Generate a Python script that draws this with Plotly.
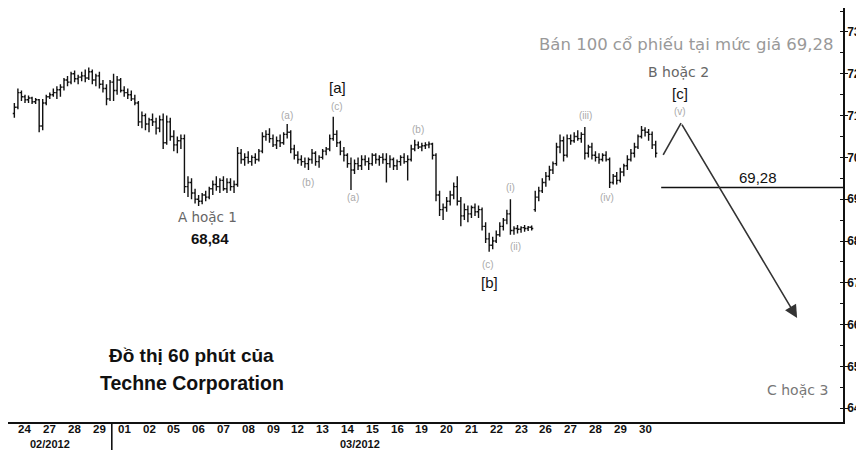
import plotly.graph_objects as go

# ---- data: 60-minute bars, 7 per trading day ----
day_labels = ["24", "27", "28", "29", "01", "02", "05", "06", "07", "08", "09", "12", "13",
              "14", "15", "16", "19", "20", "21", "22", "23", "26", "27", "28", "29", "30"]
month_labels = ["02/2012", "03/2012"]
month_pos = [1.0, 13.5]
price_ticks = [64, 65, 66, 67, 68, 69, 70, 71, 72, 73]
bars_per_day = 7

opens = [
    71.05, 71.20, 71.55, 71.45, 71.38, 71.42, 71.33,
    71.38, 70.75, 71.30, 71.45, 71.50, 71.55, 71.62,
    71.68, 71.85, 71.80, 72.00, 71.88, 71.92, 71.95,
    71.90, 72.05, 71.85, 71.95, 71.75, 71.65, 71.40,
    71.80, 71.60, 71.85, 71.60, 71.55, 71.50, 71.40,
    71.30, 70.85, 71.00, 70.80, 70.90, 70.85, 70.70,
    70.90, 70.35, 70.85, 70.50, 70.30, 70.40, 70.45,
    69.30, 69.40, 69.15, 69.00, 68.95, 69.10, 69.05,
    69.25, 69.35, 69.30, 69.45, 69.25, 69.40, 69.30,
    69.35, 70.10, 69.95, 70.00, 69.90, 70.00, 69.95,
    70.15, 70.50, 70.55, 70.45, 70.30, 70.40, 70.35,
    70.55, 70.60, 70.20, 70.05, 69.95, 69.90, 69.85,
    69.95, 70.10, 69.90, 70.00, 70.15, 70.20, 70.45,
    70.55, 70.35, 70.15, 70.05, 69.85, 69.70, 69.85,
    69.80, 69.95, 69.90, 69.85, 70.05, 69.95, 70.00,
    69.95, 69.85, 69.95, 69.80, 69.90, 70.00, 69.90,
    69.95, 70.20, 70.30, 70.25, 70.28, 70.30, 70.32,
    70.05, 69.10, 68.75, 68.80, 68.95, 69.10, 69.30,
    68.95, 68.60, 68.75, 68.65, 68.80, 68.70, 68.75,
    68.35, 68.05, 67.90, 68.00, 68.15, 68.35, 68.50,
    68.65, 68.25, 68.30, 68.28, 68.32, 68.30, 68.33,
    68.75, 69.05, 69.20, 69.40, 69.55, 69.70, 69.85,
    70.25, 70.40, 70.05, 70.45, 70.40, 70.50, 70.45,
    70.55, 70.10, 70.25, 70.05, 70.00, 69.95, 70.05,
    69.95, 69.40, 69.55, 69.45, 69.65, 69.80, 69.95,
    70.10, 70.25, 70.50, 70.65, 70.60, 70.55, 70.30,
]
highs = [
    71.30, 71.65, 71.60, 71.50, 71.48, 71.45, 71.42,
    71.40, 71.40, 71.50, 71.55, 71.65, 71.70, 71.75,
    71.90, 71.95, 72.05, 72.08, 71.98, 72.05, 72.10,
    72.15, 72.10, 72.00, 72.05, 71.85, 71.75, 71.85,
    72.00, 71.95, 71.90, 71.70, 71.65, 71.60, 71.50,
    71.35, 71.10, 71.05, 70.95, 71.05, 70.95, 71.00,
    71.05, 71.00, 70.95, 70.65, 70.50, 70.55, 70.55,
    69.55, 69.50, 69.25, 69.10, 69.15, 69.20, 69.30,
    69.45, 69.55, 69.50, 69.55, 69.50, 69.50, 69.45,
    70.25, 70.20, 70.10, 70.15, 70.05, 70.10, 70.20,
    70.60, 70.65, 70.70, 70.55, 70.50, 70.55, 70.60,
    70.80, 70.65, 70.30, 70.15, 70.05, 70.00, 70.00,
    70.20, 70.15, 70.05, 70.20, 70.25, 70.55, 70.97,
    70.65, 70.40, 70.25, 70.10, 70.00, 69.95, 70.00,
    70.05, 70.05, 70.00, 70.10, 70.10, 70.05, 70.10,
    70.10, 70.05, 70.00, 69.95, 70.05, 70.10, 70.05,
    70.30, 70.42, 70.38, 70.35, 70.36, 70.38, 70.35,
    70.10, 69.20, 68.90, 69.05, 69.20, 69.40, 69.55,
    69.05, 68.90, 68.85, 68.85, 68.90, 68.85, 68.80,
    68.45, 68.20, 68.10, 68.25, 68.45, 68.55, 68.75,
    69.00, 68.35, 68.38, 68.35, 68.38, 68.36, 68.37,
    69.20, 69.30, 69.50, 69.65, 69.80, 69.90, 70.35,
    70.55, 70.50, 70.55, 70.55, 70.60, 70.65, 70.60,
    70.73, 70.30, 70.35, 70.15, 70.10, 70.10, 70.15,
    70.00, 69.60, 69.65, 69.75, 69.85, 70.05, 70.20,
    70.35, 70.55, 70.75, 70.72, 70.68, 70.62, 70.40,
]
lows = [
    70.95, 71.15, 71.35, 71.30, 71.30, 71.28, 71.28,
    70.60, 70.65, 71.25, 71.40, 71.45, 71.40, 71.45,
    71.60, 71.70, 71.75, 71.80, 71.75, 71.82, 71.80,
    71.85, 71.75, 71.70, 71.65, 71.55, 71.25, 71.35,
    71.35, 71.50, 71.55, 71.45, 71.40, 71.35, 71.25,
    70.75, 70.70, 70.65, 70.60, 70.75, 70.55, 70.60,
    70.20, 70.30, 70.40, 70.15, 70.10, 70.20, 69.15,
    69.05, 69.00, 68.90, 68.84, 68.88, 68.95, 69.00,
    69.10, 69.20, 69.15, 69.20, 69.15, 69.20, 69.15,
    69.30, 69.85, 69.80, 69.85, 69.80, 69.85, 69.90,
    70.10, 70.40, 70.35, 70.25, 70.20, 70.25, 70.30,
    70.45, 70.10, 69.95, 69.85, 69.80, 69.75, 69.70,
    69.85, 69.80, 69.75, 69.95, 70.05, 70.15, 70.40,
    70.25, 70.05, 69.90, 69.75, 69.22, 69.60, 69.70,
    69.70, 69.80, 69.70, 69.80, 69.85, 69.80, 69.85,
    69.40, 69.75, 69.70, 69.70, 69.80, 69.85, 69.45,
    69.90, 70.15, 70.20, 70.15, 70.20, 70.22, 69.95,
    68.95, 68.60, 68.50, 68.70, 68.85, 69.00, 68.85,
    68.35, 68.50, 68.45, 68.55, 68.60, 68.55, 68.25,
    67.95, 67.74, 67.80, 67.95, 68.10, 68.25, 68.40,
    68.15, 68.15, 68.18, 68.20, 68.22, 68.24, 68.25,
    68.70, 68.95, 69.15, 69.30, 69.45, 69.60, 69.80,
    70.10, 69.90, 70.00, 70.30, 70.35, 70.40, 70.35,
    69.95, 70.00, 69.95, 69.90, 69.85, 69.90, 69.90,
    69.27, 69.35, 69.35, 69.40, 69.55, 69.70, 69.90,
    70.00, 70.20, 70.45, 70.50, 70.40, 70.20, 70.00,
]
closes = [
    71.20, 71.55, 71.45, 71.38, 71.42, 71.33, 71.38,
    70.75, 71.30, 71.45, 71.50, 71.55, 71.62, 71.68,
    71.85, 71.80, 72.00, 71.88, 71.92, 71.95, 71.90,
    72.05, 71.85, 71.95, 71.75, 71.65, 71.40, 71.80,
    71.60, 71.85, 71.60, 71.55, 71.50, 71.40, 71.30,
    70.85, 71.00, 70.80, 70.90, 70.85, 70.70, 70.90,
    70.35, 70.85, 70.50, 70.30, 70.40, 70.45, 69.30,
    69.40, 69.15, 69.00, 68.95, 69.10, 69.05, 69.25,
    69.35, 69.30, 69.45, 69.25, 69.40, 69.30, 69.35,
    70.10, 69.95, 70.00, 69.90, 70.00, 69.95, 70.15,
    70.50, 70.55, 70.45, 70.30, 70.40, 70.35, 70.55,
    70.60, 70.20, 70.05, 69.95, 69.90, 69.85, 69.95,
    70.10, 69.90, 70.00, 70.15, 70.20, 70.45, 70.55,
    70.35, 70.15, 70.05, 69.85, 69.70, 69.85, 69.80,
    69.95, 69.90, 69.85, 70.05, 69.95, 70.00, 69.95,
    69.85, 69.95, 69.80, 69.90, 70.00, 69.90, 69.95,
    70.20, 70.30, 70.25, 70.28, 70.30, 70.32, 70.05,
    69.10, 68.75, 68.80, 68.95, 69.10, 69.30, 68.95,
    68.60, 68.75, 68.65, 68.80, 68.70, 68.75, 68.35,
    68.05, 67.90, 68.00, 68.15, 68.35, 68.50, 68.65,
    68.25, 68.30, 68.28, 68.32, 68.30, 68.33, 68.30,
    69.05, 69.20, 69.40, 69.55, 69.70, 69.85, 70.25,
    70.40, 70.05, 70.45, 70.40, 70.50, 70.45, 70.55,
    70.10, 70.25, 70.05, 70.00, 69.95, 70.05, 69.95,
    69.40, 69.55, 69.45, 69.65, 69.80, 69.95, 70.10,
    70.25, 70.50, 70.65, 70.60, 70.55, 70.30, 70.10,
]

# projected path (start, B/2 peak, C/3 target) in day units / price
proj_x = [25.73, 26.45, 31.13]
proj_y = [70.06, 70.82, 66.16]
sell_level = 69.28
sell_start = 25.65

# wave labels: (text, x, y)
wave_labels = [
    ("(a)", 10.56, 71.01), ("(b)", 11.41, 69.41), ("(c)", 12.58, 71.21),
    ("(a)", 13.23, 69.03), ("(b)", 15.85, 70.66), ("(c)", 18.67, 67.43),
    ("(i)", 19.56, 69.27), ("(ii)", 19.76, 67.88), ("(iii)", 22.58, 71.01),
    ("(iv)", 23.47, 69.05), ("(v)", 26.41, 71.09),
]
bracket_labels = [("[a]", 12.58, 71.68), ("[b]", 18.71, 67.00), ("[c]", 26.41, 71.54)]

# ---- positions ----
xs = [k // bars_per_day + (k % bars_per_day + 0.5) / bars_per_day - 0.5 for k in range(len(closes))]

fig = go.Figure()
fig.add_trace(go.Ohlc(
    x=xs, open=opens, high=highs, low=lows, close=closes,
    increasing=dict(line=dict(color="#111", width=1.4)),
    decreasing=dict(line=dict(color="#111", width=1.4)),
    tickwidth=0.45, showlegend=False, hoverinfo="skip",
))

FONT = "Liberation Sans, Arial, sans-serif"
WIDE = "DejaVu Sans, Verdana, sans-serif"
ann = []
for t, x, y in wave_labels:
    ann.append(dict(x=x, y=y, text=t, showarrow=False, font=dict(size=10, color="#aaaaaa", family=FONT)))
for t, x, y in bracket_labels:
    ann.append(dict(x=x, y=y, text=t, showarrow=False, font=dict(size=15, color="#111", family=FONT)))

ann += [
    dict(x=7.34, y=68.57, text="A hoặc 1", showarrow=False, font=dict(size=13.5, color="#666", family=WIDE)),
    dict(x=7.46, y=68.07, text="<b>68,84</b>", showarrow=False, font=dict(size=15, color="#111", family=FONT)),
    dict(x=26.33, y=72.04, text="B hoặc 2", showarrow=False, font=dict(size=14, color="#666", family=WIDE)),
    dict(x=29.56, y=69.51, text="69,28", showarrow=False, font=dict(size=15, color="#111", family=FONT)),
    dict(x=31.13, y=64.44, text="C hoặc 3", showarrow=False, font=dict(size=14, color="#777", family=WIDE)),
    dict(x=0.9916, xref="paper", xanchor="right", y=72.71, text="Bán 100 cổ phiếu tại mức giá 69,28",
         showarrow=False, font=dict(size=16.5, color="#999", family=WIDE)),
    dict(x=6.73, y=65.25, text="<b>Đồ thị 60 phút của</b>", showarrow=False,
         font=dict(size=19, color="#111", family=FONT)),
    dict(x=6.73, y=64.60, text="<b>Techne Corporation</b>", showarrow=False,
         font=dict(size=19.5, color="#111", family=FONT)),
    # arrow from B/2 peak to C/3 target
    dict(x=proj_x[2], y=proj_y[2], ax=proj_x[1], ay=proj_y[1], axref="x", ayref="y",
         text="", showarrow=True, arrowhead=2, arrowsize=1.6, arrowwidth=1.6, arrowcolor="#333"),
]
# date axis labels (two rows under the axis)
for i, d in enumerate(day_labels):
    ann.append(dict(x=i, y=-0.018, yref="paper", yanchor="middle", text="<b>" + d + "</b>",
                    showarrow=False, borderpad=0, font=dict(size=11.5, color="#111", family=FONT)))
for t, x in zip(month_labels, month_pos):
    ann.append(dict(x=x, y=-0.052, yref="paper", yanchor="middle", text="<b>" + t + "</b>",
                    showarrow=False, borderpad=0, font=dict(size=11, color="#111", family=FONT)))

shapes = [
    dict(type="line", x0=proj_x[0], y0=proj_y[0], x1=proj_x[1], y1=proj_y[1],
         line=dict(color="#333", width=1.6)),
    dict(type="line", x0=sell_start, x1=32.98, y0=sell_level, y1=sell_level,
         line=dict(color="#111", width=1.6)),
    dict(type="line", x0=3.5, x1=3.5, y0=0, y1=-0.075, yref="paper",
         line=dict(color="#111", width=1.6)),
]

# the page body adds an 8px offset, so the figure is 856x442 inside the 864x450 window
fig.update_layout(
    width=856, height=442,
    margin=dict(l=0, r=21, t=0, b=28),
    paper_bgcolor="white", plot_bgcolor="white",
    annotations=ann, shapes=shapes,
    showlegend=False,
    xaxis=dict(
        range=[-0.685, 32.98], rangeslider=dict(visible=False),
        showticklabels=False, ticks="", showgrid=False, zeroline=False,
        showline=True, linecolor="#111", linewidth=2,
    ),
    yaxis=dict(
        side="right", range=[63.67, 73.574],
        tickvals=price_ticks, ticktext=["<b>" + str(v) + "</b>" for v in price_ticks],
        ticks="outside", ticklen=3, tickcolor="#111",
        minor=dict(dtick=0.5, ticks="inside", ticklen=3, tickcolor="#111"),
        showgrid=False, zeroline=False,
        showline=True, linecolor="#111", linewidth=1.5,
        tickfont=dict(size=12, color="#111", family=FONT),
        ticklabelstandoff=-3,
    ),
)

fig.write_html("out.html")
